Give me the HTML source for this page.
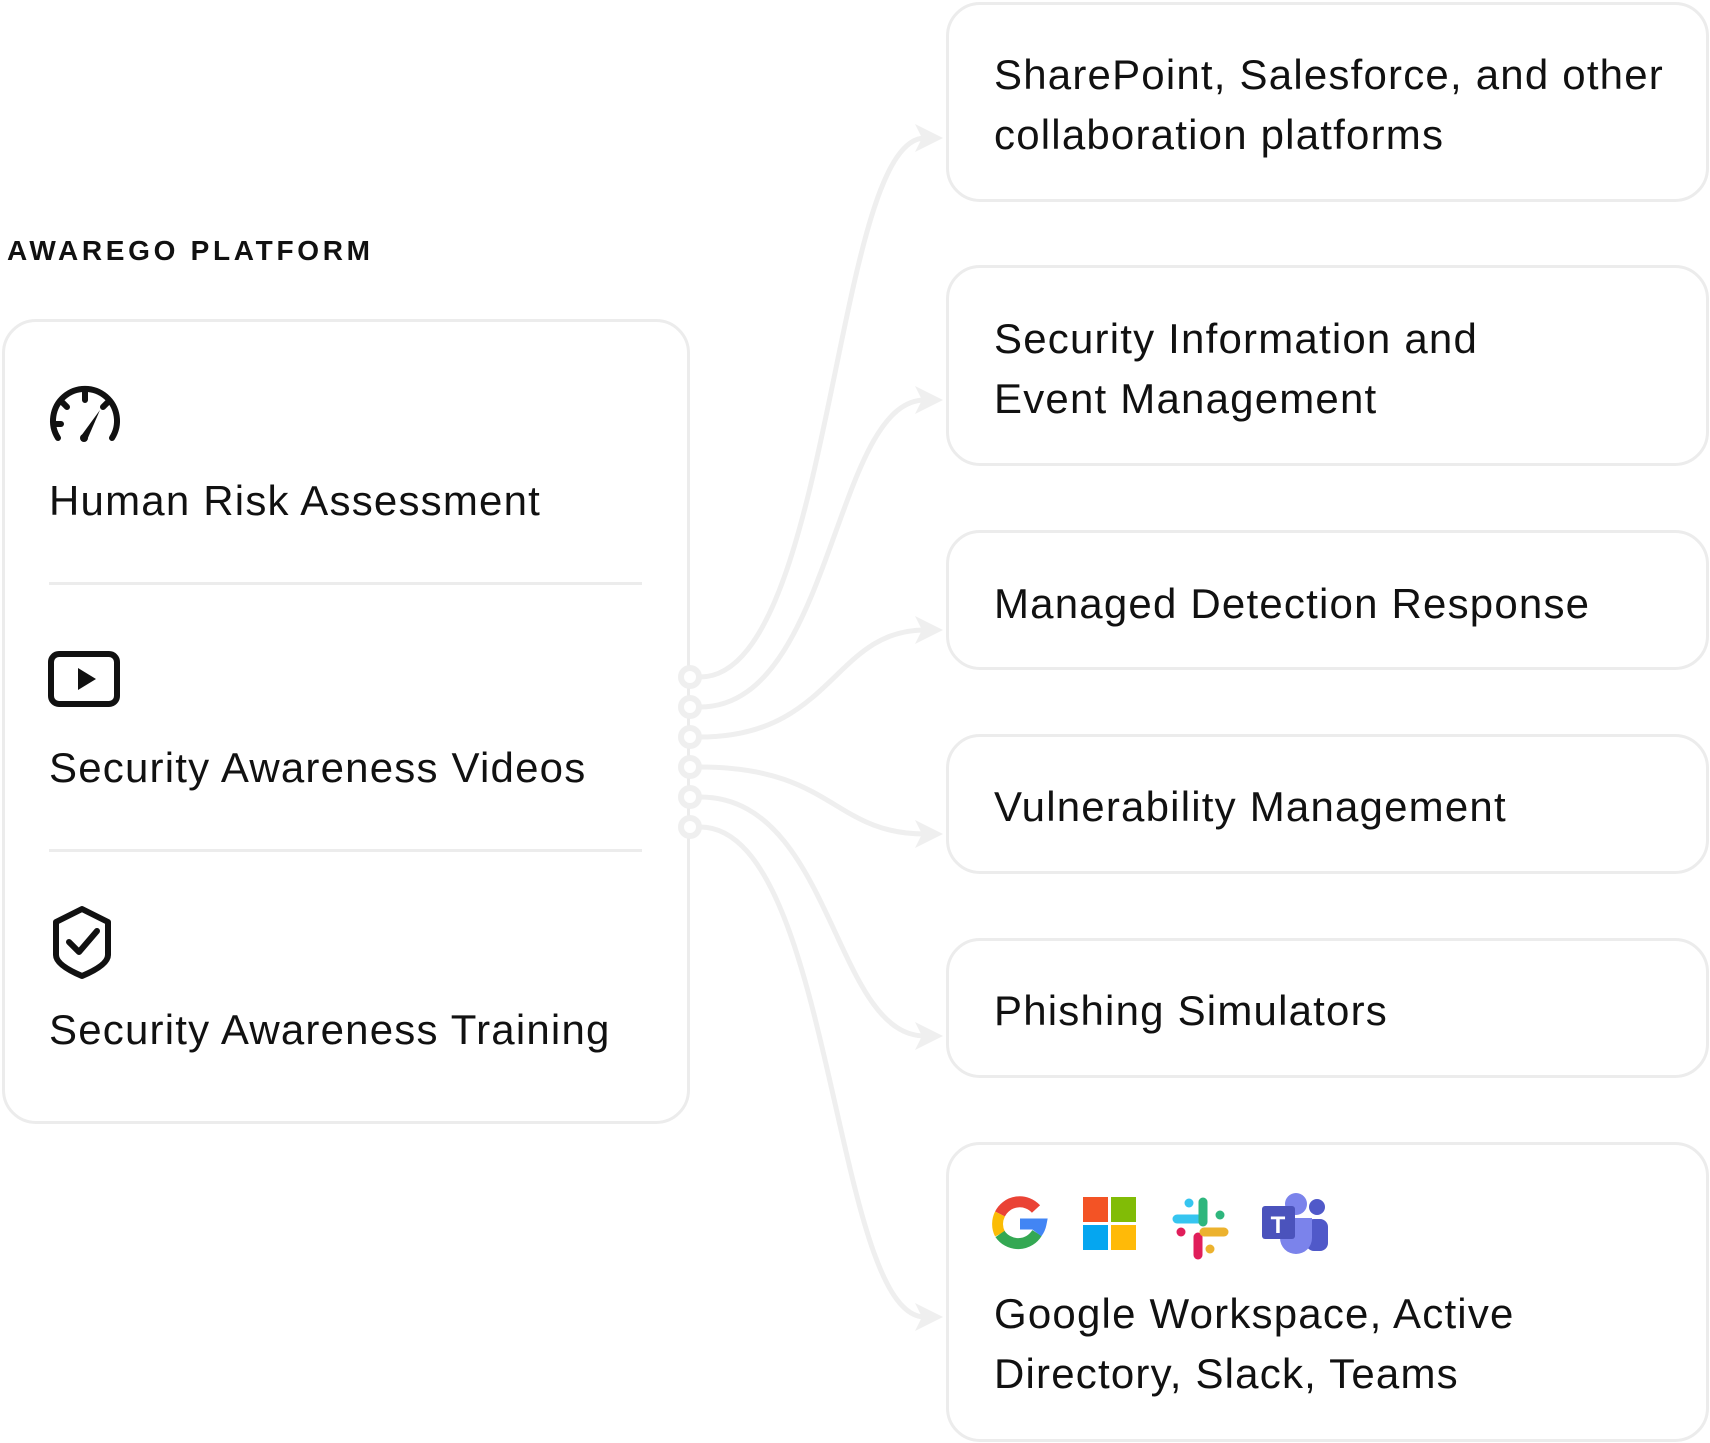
<!DOCTYPE html>
<html><head><meta charset="utf-8"><style>
body{margin:0;width:1710px;height:1443px;background:#fff;position:relative;overflow:hidden;font-family:"Liberation Sans",sans-serif;color:#111}
.t{position:absolute;font-size:42px;line-height:60px;white-space:nowrap;letter-spacing:1.2px}
.box{position:absolute;left:946px;width:763px;border:3px solid #ececec;border-radius:34px;box-sizing:border-box;background:#fff}
</style></head><body>
<div style="position:absolute;left:7px;top:236px;font-size:28px;font-weight:bold;letter-spacing:3.7px;line-height:30px">AWAREGO PLATFORM</div>
<div style="position:absolute;left:2px;top:319px;width:688px;height:805px;border:3px solid #ececec;border-radius:34px;box-sizing:border-box"></div>
<div style="position:absolute;left:49px;top:582px;width:593px;height:3px;background:#ececec"></div>
<div style="position:absolute;left:49px;top:849px;width:593px;height:3px;background:#ececec"></div>

<div class="box" style="top:2px;height:200px"></div>
<div class="box" style="top:265px;height:201px"></div>
<div class="box" style="top:530px;height:140px"></div>
<div class="box" style="top:734px;height:140px"></div>
<div class="box" style="top:938px;height:140px"></div>
<div class="box" style="top:1142px;height:300px"></div>

<svg style="position:absolute;left:0;top:0" width="1710" height="1443">
<g fill="none" stroke="#efefef" stroke-width="5">
<path d="M700 677 C833 677 833 138 925 138"/>
<path d="M700 707 C833 707 833 400 925 400"/>
<path d="M700 737 C833 737 833 630 925 630"/>
<path d="M700 767 C833 767 833 834 925 834"/>
<path d="M700 797 C833 797 833 1036 925 1036"/>
<path d="M700 827 C833 827 833 1317 925 1317"/>
<g stroke-width="6"><circle cx="690" cy="677" r="9" fill="#fff"/><circle cx="690" cy="707" r="9" fill="#fff"/><circle cx="690" cy="737" r="9" fill="#fff"/><circle cx="690" cy="767" r="9" fill="#fff"/><circle cx="690" cy="797" r="9" fill="#fff"/><circle cx="690" cy="827" r="9" fill="#fff"/></g>
</g>
<g fill="#efefef">
<path d="M943 138 L915 124 L922 138 L915 152Z"/>
<path d="M943 400 L915 386 L922 400 L915 414Z"/>
<path d="M943 630 L915 616 L922 630 L915 644Z"/>
<path d="M943 834 L915 820 L922 834 L915 848Z"/>
<path d="M943 1036 L915 1022 L922 1036 L915 1050Z"/>
<path d="M943 1317 L915 1303 L922 1317 L915 1331Z"/>
</g>
<g fill="none" stroke="#111" stroke-width="6" stroke-linecap="round">
<path d="M58 438 A32 32 0 1 1 112 438"/>
<path d="M85 392 v8 M62 402 l5 5 M108 402 l-5 5 M54 424 h7"/>
</g>
<path d="M100 410 L87 440 L81 436Z" fill="#111"/><circle cx="84" cy="438" r="4" fill="#111"/>
<rect x="51" y="654" width="66" height="50" rx="8" fill="none" stroke="#111" stroke-width="6"/>
<path d="M78 668 L96 679 L78 690Z" fill="#111"/>
<path d="M82 909 L108 922 L108 955 Q108 965 82 976 Q56 965 56 955 L56 922Z" fill="none" stroke="#111" stroke-width="6" stroke-linejoin="round"/>
<path d="M69 942 L79 952 L97 931" fill="none" stroke="#111" stroke-width="6" stroke-linecap="round" stroke-linejoin="round"/>
<g transform="translate(993,1197)" fill="none" stroke-width="11">
<path d="M43 12 A22 22 0 0 0 7 17" stroke="#EA4335"/>
<path d="M7 17 A22 22 0 0 0 7 37" stroke="#FBBC05"/>
<path d="M7 37 A22 22 0 0 0 44 36" stroke="#34A853"/>
<path d="M44 36 A22 22 0 0 0 48 27 L27 27" stroke="#4285F4"/>
</g>
<rect x="1083" y="1197" width="25" height="25" fill="#F35325"/><rect x="1111" y="1197" width="25" height="25" fill="#81BC06"/>
<rect x="1083" y="1225" width="25" height="25" fill="#05A6F0"/><rect x="1111" y="1225" width="25" height="25" fill="#FFBA08"/>
<g stroke-width="9" stroke-linecap="round" fill="none">
<path d="M1177 1219 h22" stroke="#36C5F0"/><path d="M1189 1203 v0" stroke="#36C5F0"/>
<path d="M1203 1202 v20" stroke="#2EB67D"/><path d="M1220 1215 v0" stroke="#2EB67D"/>
<path d="M1198 1237 v18" stroke="#E01E5A"/><path d="M1181 1232 v0" stroke="#E01E5A"/>
<path d="M1204 1232 h20" stroke="#ECB22E"/><path d="M1210 1249 v0" stroke="#ECB22E"/>
</g>
<circle cx="1317" cy="1207" r="8" fill="#5059C9"/><rect x="1306" y="1219" width="22" height="32" rx="8" fill="#5059C9"/>
<circle cx="1296" cy="1204" r="11" fill="#7B83EB"/><path d="M1280 1218 h32 v20 a16 16 0 0 1 -32 0Z" fill="#7B83EB"/>
<rect x="1262" y="1206" width="33" height="33" rx="3" fill="#4B53BC"/>
<text x="1278" y="1233" font-family="Liberation Sans" font-weight="bold" font-size="24" fill="#fff" text-anchor="middle">T</text>
</svg>

<div class="t" style="left:49px;top:471px">Human Risk Assessment</div>
<div class="t" style="left:49px;top:738px">Security Awareness Videos</div>
<div class="t" style="left:49px;top:1000px">Security Awareness Training</div>

<div class="t" style="left:994px;top:45px">SharePoint, Salesforce, and other<br>collaboration platforms</div>
<div class="t" style="left:994px;top:309px">Security Information and<br>Event Management</div>
<div class="t" style="left:994px;top:574px">Managed Detection Response</div>
<div class="t" style="left:994px;top:777px">Vulnerability Management</div>
<div class="t" style="left:994px;top:981px">Phishing Simulators</div>
<div class="t" style="left:994px;top:1284px">Google Workspace, Active<br>Directory, Slack, Teams</div>
</body></html>
